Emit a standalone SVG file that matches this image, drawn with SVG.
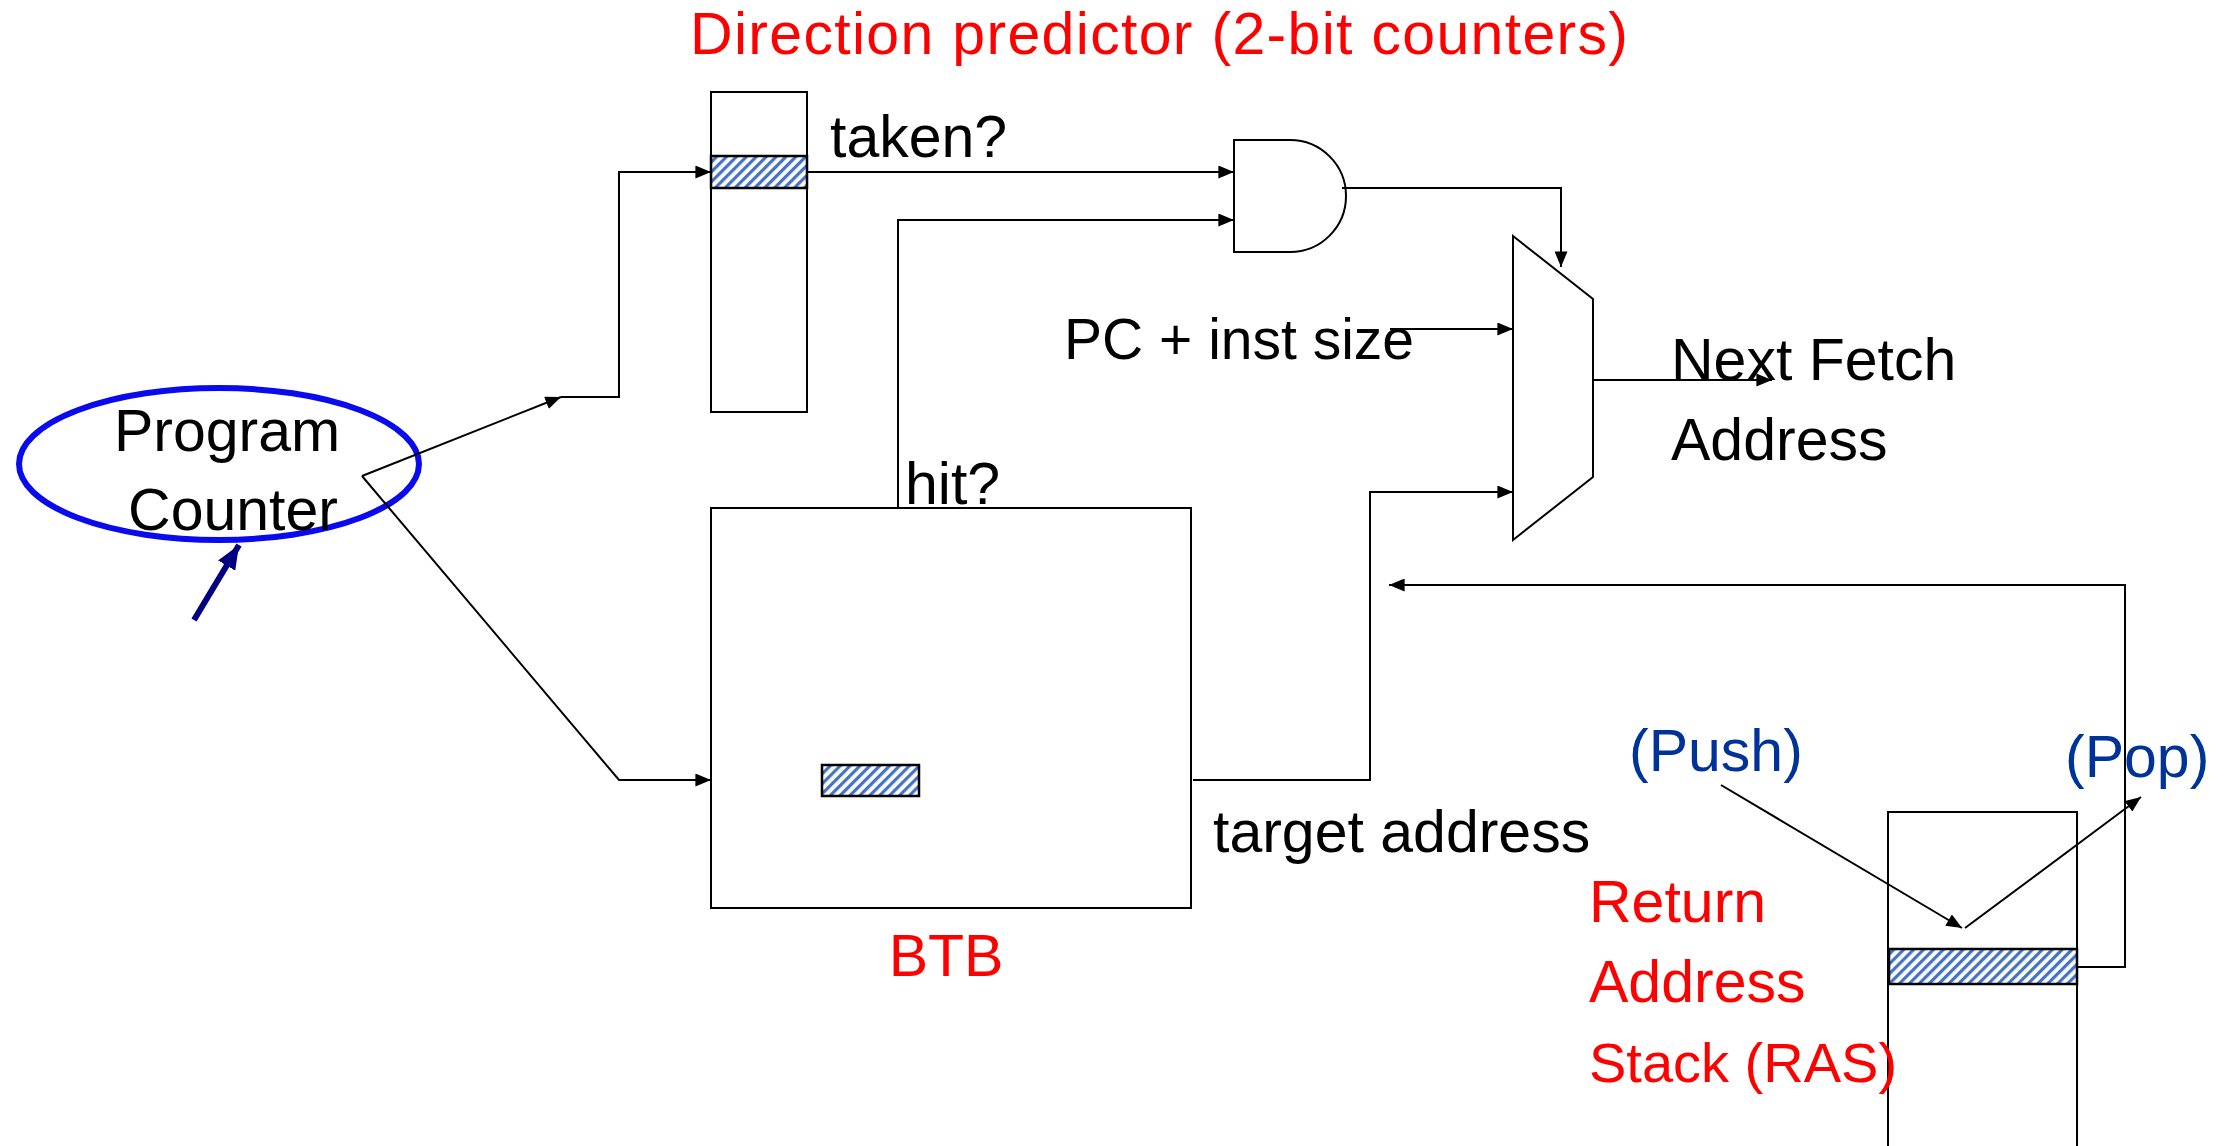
<svg xmlns="http://www.w3.org/2000/svg" width="2225" height="1146" viewBox="0 0 2225 1146">
  <style>
    .box { fill: #fff; stroke: #000; stroke-width: 2; }
    .hatch { fill: url(#stripes); stroke: #000; stroke-width: 2.5; }
    .wire { fill: none; stroke: #000; stroke-width: 2; marker-end: url(#arr); }
    .lbl { font-family: "Liberation Sans", Arial, sans-serif; font-size: 59px; fill: #000; }
    .red { fill: #ff0000; }
    .navy { fill: #003399; }
  </style>
  <defs>
    <pattern id="stripes" width="7" height="7" patternUnits="userSpaceOnUse" patternTransform="rotate(45)">
      <rect width="7" height="7" fill="#ffffff"/>
      <rect width="3.2" height="7" fill="#4472c4"/>
    </pattern>
    <marker id="arr" viewBox="0 0 12 10" refX="12" refY="5" markerWidth="16" markerHeight="13" markerUnits="userSpaceOnUse" orient="auto">
      <path d="M0,0 L12,5 L0,10 z" fill="#000"/>
    </marker>
    <marker id="arrNavy" viewBox="0 0 12 10" refX="12" refY="5" markerWidth="24" markerHeight="20" markerUnits="userSpaceOnUse" orient="auto">
      <path d="M0,0 L12,5 L0,10 z" fill="#000080"/>
    </marker>
  </defs>

  <rect width="2225" height="1146" fill="#fff"/>

  <!-- Program counter -->
  <g id="pc">
    <ellipse cx="219" cy="464" rx="200" ry="76" fill="none" stroke="#0a0aee" stroke-width="6"/>
    <text class="lbl" x="227" y="451" text-anchor="middle">Program</text>
    <text class="lbl" x="233" y="530" text-anchor="middle">Counter</text>
    <path d="M194,620 L239,545" fill="none" stroke="#000080" stroke-width="6" marker-end="url(#arrNavy)"/>
  </g>

  <!-- Direction predictor table -->
  <g id="dirpred">
    <rect class="box" x="711" y="92" width="96" height="320"/>
    <rect class="hatch" x="711" y="156" width="96" height="32"/>
    <text class="lbl red" x="690" y="54" textLength="938" lengthAdjust="spacing">Direction predictor (2-bit counters)</text>
  </g>

  <!-- Branch target buffer -->
  <g id="btb">
    <rect class="box" x="711" y="508" width="480" height="400"/>
    <rect class="hatch" x="822" y="765" width="97" height="31"/>
    <text class="lbl red" x="946" y="976" text-anchor="middle">BTB</text>
  </g>

  <!-- AND gate -->
  <g id="and">
    <path class="box" d="M1234,140 H1290 A56,56 0 0 1 1290,252 H1234 Z"/>
  </g>

  <!-- Next-address mux -->
  <g id="mux">
    <polygon class="box" points="1513,236 1593,299 1593,477 1513,540"/>
  </g>

  <!-- Return address stack -->
  <g id="ras">
    <rect class="box" x="1888" y="812" width="189" height="360"/>
    <rect class="hatch" x="1889" y="949" width="188" height="35"/>
    <text class="lbl red" x="1589" y="922">Return</text>
    <text class="lbl red" x="1589" y="1002">Address</text>
    <text class="lbl red" x="1589" y="1082" style="font-size:56px">Stack (RAS)</text>
  </g>

  <!-- Wires -->
  <g id="connectors">
    <path class="wire" d="M362,476 L561,397"/>
    <path class="wire" d="M561,397 H619 V172 H711"/>
    <path class="wire" d="M362,476 L619,780 H711"/>
    <path class="wire" d="M807,172 H1234"/>
    <path class="wire" d="M898,508 V220 H1234"/>
    <path class="wire" d="M1342,188 H1561 V267"/>
    <path class="wire" d="M1390,329 H1513"/>
    <path class="wire" d="M1193,780 H1370 V492 H1513"/>
    <path class="wire" d="M1593,380 H1772"/>
    <path class="wire" d="M2077,967 H2125 V585 H1389"/>
    <path class="wire" d="M1721,785 L1962,928"/>
    <path class="wire" d="M1965,928 L2141,797"/>
  </g>

  <!-- Signal labels -->
  <g id="labels">
    <text class="lbl" x="830" y="157">taken?</text>
    <text class="lbl" x="905" y="504">hit?</text>
    <text class="lbl" x="1064" y="359" style="font-size:57px">PC + inst size</text>
    <text class="lbl" x="1671" y="380">Next Fetch</text>
    <text class="lbl" x="1671" y="460">Address</text>
    <text class="lbl" x="1213" y="852">target address</text>
    <text class="lbl navy" x="1629" y="771">(Push)</text>
    <text class="lbl navy" x="2065" y="777">(Pop)</text>
  </g>
</svg>
